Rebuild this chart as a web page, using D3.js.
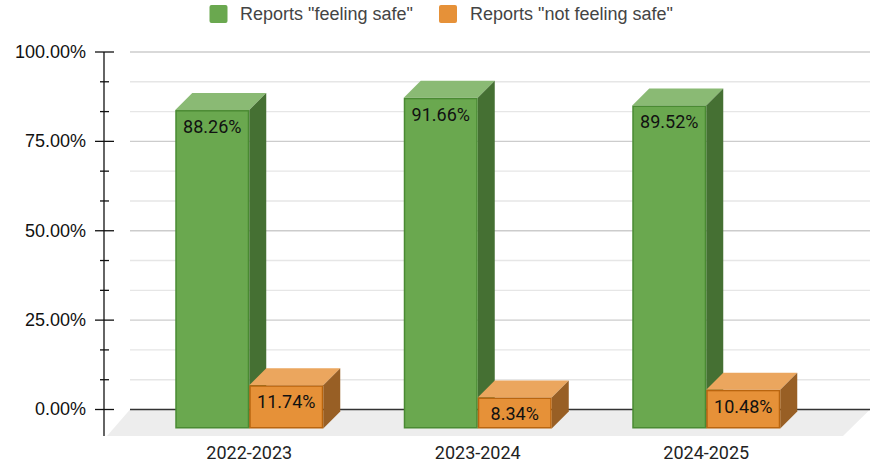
<!DOCTYPE html>
<html><head><meta charset="utf-8">
<script src="https://cdn.jsdelivr.net/npm/d3@7"></script>
<style>html,body{margin:0;padding:0;background:#fff}svg{display:block}</style>
</head><body><svg id="c" width="877" height="463"></svg>
<script>
const categories = ["2022-2023","2023-2024","2024-2025"];
const safeValues = [88.26,91.66,89.52];
const notSafeValues = [11.74,8.34,10.48];
const seriesNames = ['Reports "feeling safe"','Reports "not feeling safe"'];
const majorTicks = [0,25,50,75,100];
const minorTicks = [8.33,16.67,33.33,41.67,58.33,66.67,83.33,91.67];

const svg=d3.select("#c");
const yBack=d3.scaleLinear().domain([0,100]).range([409.5,52]);
const yFront=d3.scaleLinear().domain([0,100]).range([427.5,67.8]);
const baseY=428.5;
const x0=d3.scaleBand().domain(categories).range([135,820.5]);
const bw=74, dep=17;
const xc=c=>x0(c)+x0.bandwidth()/2;

// gridlines
svg.append("g").selectAll("line").data(minorTicks).join("line")
 .attr("x1",130).attr("x2",870).attr("y1",d=>yBack(d)).attr("y2",d=>yBack(d))
 .attr("stroke","#e6e6e6").attr("stroke-width",1.4);
svg.append("g").selectAll("line").data(majorTicks.filter(d=>d!==0)).join("line")
 .attr("x1",130).attr("x2",870).attr("y1",d=>yBack(d)).attr("y2",d=>yBack(d))
 .attr("stroke","#cccccc").attr("stroke-width",1.4);
// floor
svg.append("path").attr("d",`M130,${yBack(0)}L870,${yBack(0)}L843,436L107,436Z`).attr("fill","#ededed");
svg.append("line").attr("x1",130).attr("x2",870).attr("y1",yBack(0)).attr("y2",yBack(0)).attr("stroke","#333").attr("stroke-width",1.4);

// axis
const axisFont="'Liberation Sans',Arial,sans-serif";
const yAxis=d3.axisLeft(yBack).tickValues(majorTicks).tickFormat(d=>d.toFixed(2)+"%").tickSize(0);
const ag=svg.append("g").attr("transform","translate(104,-1)").call(yAxis);
ag.select(".domain").remove();
ag.selectAll("text").attr("x",-18).attr("dy","0.35em").attr("font-family",axisFont).attr("font-size",18).attr("fill","#111");
svg.append("line").attr("x1",104).attr("x2",104).attr("y1",yBack(100)).attr("y2",436).attr("stroke","#111").attr("stroke-width",1.3);
svg.append("g").selectAll("line").data(majorTicks).join("line")
 .attr("x1",95).attr("x2",114).attr("y1",d=>yBack(d)).attr("y2",d=>yBack(d)).attr("stroke","#111").attr("stroke-width",1.3);
svg.append("g").selectAll("line").data(minorTicks).join("line")
 .attr("x1",100).attr("x2",109).attr("y1",d=>yBack(d)).attr("y2",d=>yBack(d)).attr("stroke","#111").attr("stroke-width",1.3);

// bars
const styles=[
 {front:"#6aa84f",border:"#4a8a33",top:"#8aba74",side:"#457033"},
 {front:"#e69138",border:"#b9650f",top:"#eba65e",side:"#985f25"}
];
function bar(g,x,v,st,label){
 const t=yFront(v),b=baseY;
 g.append("path").attr("d",`M${x},${t}L${x+dep},${t-dep}L${x+bw+dep},${t-dep}L${x+bw},${t}Z`).attr("fill",st.top);
 g.append("path").attr("d",`M${x+bw},${t}L${x+bw+dep},${t-dep}L${x+bw+dep},${b-dep}L${x+bw},${b}Z`).attr("fill",st.side);
 g.append("rect").attr("x",x+.75).attr("y",t+.75).attr("width",bw-1.5).attr("height",b-t-1.5)
  .attr("fill",st.front).attr("stroke",st.border).attr("stroke-width",1.5);
 g.append("text").attr("x",x+bw/2).attr("y",t+16.5).attr("dy","0.36em").attr("text-anchor","middle")
  .attr("font-family","Roboto,sans-serif").attr("font-size",18).attr("fill","#111").text(label);
}
categories.forEach((c,i)=>{
 const g=svg.append("g");
 const xx=xc(c)-bw;
 bar(g,xx,safeValues[i],styles[0],safeValues[i].toFixed(2)+"%");
 bar(g,xx+bw,notSafeValues[i],styles[1],notSafeValues[i].toFixed(2)+"%");
});

// x labels
svg.append("g").selectAll("text").data(categories).join("text")
 .attr("x",d=>xc(d)).attr("y",458.5).attr("text-anchor","middle")
 .attr("font-family","Roboto,sans-serif").attr("font-size",18).attr("fill","#222").text(d=>d);

// legend
[[209.5,240],[439,470]].forEach((p,i)=>{
 svg.append("rect").attr("x",p[0]).attr("y",5).attr("width",18).attr("height",18).attr("rx",2)
  .attr("fill",styles[i].front);
 svg.append("text").attr("x",p[1]).attr("y",20).attr("font-family",axisFont).attr("font-size",18)
  .attr("fill","#444").text(seriesNames[i]);
});
</script></body></html>
